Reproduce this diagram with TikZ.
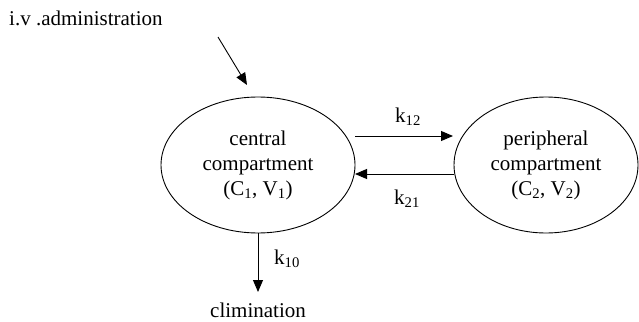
\documentclass[tikz,border=0pt]{standalone}
\usepackage{fontspec}
\setmainfont{Liberation Serif}
\usetikzlibrary{shapes.geometric,arrows.meta}
\begin{document}
\begin{tikzpicture}[x=1pt,y=-1pt,
  comp/.style={draw,ellipse,line width=0.9pt,inner sep=0pt,align=center,
    font=\fontsize{21}{25}\selectfont},
  lbl/.style={font=\fontsize{21}{25}\selectfont,inner sep=0pt},
  arr/.style={line width=0.9pt,-{Triangle[length=12pt,width=10pt]}}]
\useasboundingbox (0,0) rectangle (639,321);
\node[comp,minimum width=194pt,minimum height=136pt] (c) at (258,165)
  {central\\compartment\\(C\textsubscript{1}, V\textsubscript{1})};
\node[comp,minimum width=184pt,minimum height=136pt] (p) at (546,165)
  {peripheral\\compartment\\(C\textsubscript{2}, V\textsubscript{2})};
\node[lbl,anchor=west] (iv) at (9,18) {i.v .administration};
\node[lbl] (el) at (258,310) {climination};
\node[lbl] (k12) at (408,117) {k\textsubscript{12}};
\node[lbl] (k21) at (407,199) {k\textsubscript{21}};
\node[lbl] (k10) at (287,259) {k\textsubscript{10}};
\coordinate (ivs) at (218,37);
\coordinate (ive) at (247,85);
\coordinate (a1) at (355,136);
\coordinate (a2) at (453,136);
\coordinate (b1) at (454,174);
\coordinate (b2) at (355,174);
\coordinate (e2) at (258,292);
\draw[arr] (ivs) -- (ive);
\draw[arr] (a1) -- (a2);
\draw[arr] (b1) -- (b2);
\draw[arr] (c.south) -- (e2);
\end{tikzpicture}
\end{document}
